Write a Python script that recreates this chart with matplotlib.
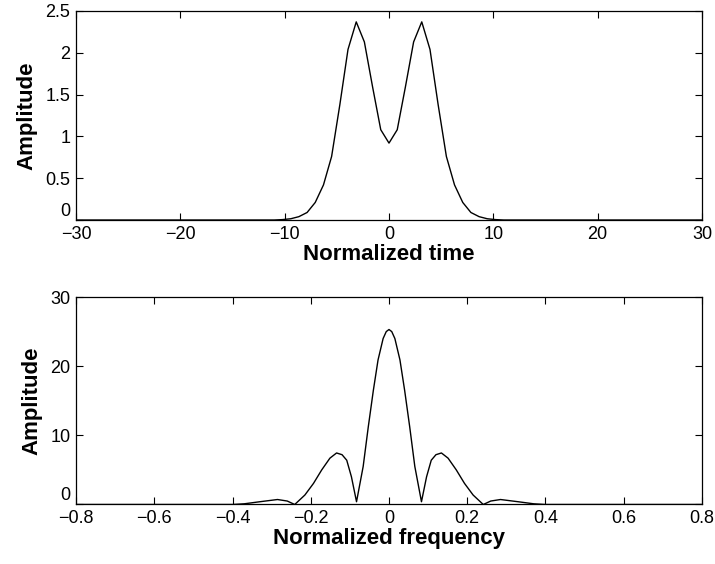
import numpy as np
import matplotlib
matplotlib.use("Agg")
import matplotlib.pyplot as plt

plt.rcParams['font.family'] = ['Liberation Sans', 'DejaVu Sans']

# Top panel: time-domain pulse (sampled roughly every pi/4)
t_vals = [-30.0, -11.0, -10.21, -9.42, -8.64, -7.85, -7.07, -6.28, -5.50, -4.71,
          -3.93, -3.14, -2.36, -1.57, -0.79, 0.0, 0.79, 1.57, 2.36, 3.14,
          3.93, 4.71, 5.50, 6.28, 7.07, 7.85, 8.64, 9.42, 10.21, 11.0, 30.0]
t_amp = [0.0, 0.0, 0.005, 0.015, 0.04, 0.09, 0.21, 0.42, 0.76, 1.38,
         2.04, 2.37, 2.13, 1.59, 1.08, 0.92, 1.08, 1.59, 2.13, 2.37,
         2.04, 1.38, 0.76, 0.42, 0.21, 0.09, 0.04, 0.015, 0.005, 0.0, 0.0]

# Bottom panel: spectrum magnitude
f_vals = [-0.8, -0.40, -0.37, -0.33, -0.285, -0.26, -0.241, -0.236, -0.215, -0.193,
          -0.172, -0.151, -0.134, -0.120, -0.108, -0.096, -0.083, -0.066, -0.053,
          -0.040, -0.028, -0.015, -0.007, 0.0, 0.007, 0.015, 0.028, 0.040, 0.053,
          0.066, 0.083, 0.096, 0.108, 0.120, 0.134, 0.151, 0.172, 0.193, 0.215,
          0.236, 0.241, 0.26, 0.285, 0.33, 0.37, 0.40, 0.8]
f_amp = [0.0, 0.0, 0.1, 0.4, 0.72, 0.5, 0.0, 0.26, 1.37, 3.05,
         5.0, 6.7, 7.45, 7.2, 6.4, 4.0, 0.4, 5.5, 11.2,
         16.5, 20.9, 24.0, 25.0, 25.3, 25.0, 24.0, 20.9, 16.5, 11.2,
         5.5, 0.4, 4.0, 6.4, 7.2, 7.45, 6.7, 5.0, 3.05, 1.37,
         0.26, 0.0, 0.5, 0.72, 0.4, 0.1, 0.0, 0.0]

fig = plt.figure(figsize=(7.15, 5.64), dpi=100)
ax1 = fig.add_axes([0.1063, 0.6099, 0.8755, 0.3706])
ax2 = fig.add_axes([0.1063, 0.1055, 0.8755, 0.3679])

ax1.plot(t_vals, t_amp, color='black', linewidth=1.0)
ax1.set_xlim(-30, 30)
ax1.set_ylim(0, 2.5)
ax1.set_xticks([-30, -20, -10, 0, 10, 20, 30])
ax1.set_yticks([0, 0.5, 1, 1.5, 2, 2.5])
ax1.set_yticklabels(['0', '0.5', '1', '1.5', '2', '2.5'])
ax1.set_xlabel('Normalized time', fontsize=16, fontweight='bold', labelpad=1)
ax1.set_ylabel('Amplitude', fontsize=16, fontweight='bold', labelpad=6)

ax2.plot(f_vals, f_amp, color='black', linewidth=1.0)
ax2.set_xlim(-0.8, 0.8)
ax2.set_ylim(0, 30)
ax2.set_xticks([-0.8, -0.6, -0.4, -0.2, 0, 0.2, 0.4, 0.6, 0.8])
ax2.set_xticklabels(['\u22120.8', '\u22120.6', '\u22120.4', '\u22120.2', '0',
                     '0.2', '0.4', '0.6', '0.8'])
ax2.set_yticks([0, 10, 20, 30])
ax2.set_xlabel('Normalized frequency', fontsize=16, fontweight='bold', labelpad=1)
ax2.set_ylabel('Amplitude', fontsize=16, fontweight='bold', labelpad=6)

for ax in (ax1, ax2):
    ax.tick_params(direction='in', top=True, right=True, length=5, width=0.8,
                   labelsize=13)
    ax.tick_params(axis='x', pad=4)
    ax.tick_params(axis='y', pad=4)
    for s in ax.spines.values():
        s.set_linewidth(0.9)
    # the "0" on the y axis sits just above the x axis, as in the original
    ax.get_yticklabels()[0].set_verticalalignment('bottom')

fig.savefig('out.png', dpi=100)
